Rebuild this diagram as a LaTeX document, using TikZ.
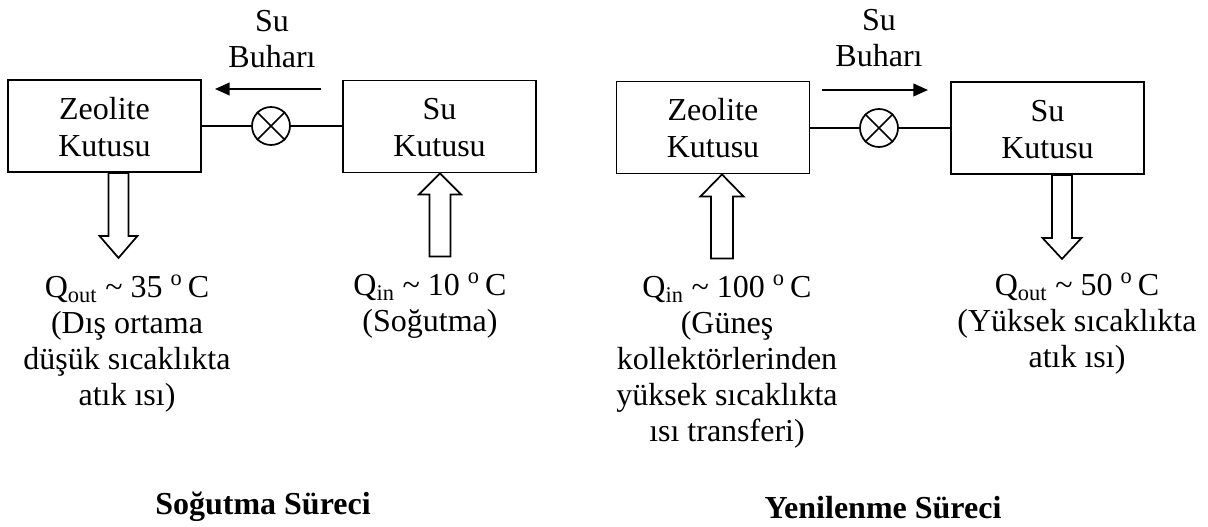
\documentclass[tikz,border=0pt]{standalone}
\usepackage{fontspec}
\setmainfont{Liberation Serif}
\usetikzlibrary{arrows.meta,calc}

\tikzset{
  px/.style={x=0.75pt,y=-0.75pt},
  tank/.style={draw, line width=1.4pt, inner sep=0pt, align=center,
    minimum width=144.75pt, minimum height=69pt,
    font=\fontsize{24}{27.75}\selectfont},
  valve/.style={draw, circle, line width=1.3pt, inner sep=0pt, minimum size=28.5pt},
  pipe/.style={line width=1.1pt},
  steam/.style={line width=1.5pt, -{Triangle[length=11pt,width=9.5pt]}},
  heat/.style={draw, fill=white, line width=1.3pt, line join=miter},
  note/.style={anchor=north, inner sep=0pt, align=center,
    font=\fontsize{24}{27}\selectfont},
  title/.style={anchor=base, inner sep=0pt, font=\bfseries\fontsize{24}{27}\selectfont}
}

\begin{document}
\begin{tikzpicture}[px]
\useasboundingbox (0,0) rectangle (1208,527);

% ---------- cooling process ----------
\node[tank] (Z1) at (104.5,126) {\rule{0pt}{26pt}Zeolite\\Kutusu\strut};
\node[tank] (S1) at (439.5,126.5) {\rule{0pt}{26pt}Su\\Kutusu\strut};
\node[valve] (V1) at (271,126) {};
\draw[pipe] (V1.north west) -- (V1.south east) (V1.north east) -- (V1.south west);
\draw[pipe] (Z1.east) -- (V1.west) (V1.east) -- (S1.west |- V1.east);

\node[note] (B1) at (272,5.8) {\strut Su\\Buharı};
\coordinate (f1s) at (321,89);
\coordinate (f1e) at (215,89);
\draw[steam] (f1s) -- (f1e);

% heat rejected by the zeolite
\draw[heat] (Z1.south -| 108.5,0) -- ++(0,63) -- ++(-9,0) -- ++(19,22)
  -- ++(19,-22) -- ++(-9,0) -- ++(0,-63) -- cycle;
% heat taken up by the water tank
\draw[heat] (S1.south -| 440,0) -- ++(-21,21) -- ++(10.5,0) -- ++(0,62)
  -- ++(21,0) -- ++(0,-62) -- ++(10.5,0) -- cycle;

\node[note] (Q1) at (127,271.8) {\strut Q\textsubscript{out} \char"007E{} 35 \textsuperscript{o}\,C\\(Dış ortama\\düşük sıcaklıkta\\atık ısı)};
\node[note] (Q2) at (430,270.5) {\strut Q\textsubscript{in} \char"007E{} 10 \textsuperscript{o}\,C\\(Soğutma)};

\node[title] (T1) at (263,515) {Soğutma Süreci};

% ---------- regeneration process ----------
\node[tank] (Z2) at (713,127.5) {\rule{0pt}{26pt}Zeolite\\Kutusu\strut};
\node[tank] (S2) at (1047.5,128) {\rule{0pt}{26pt}Su\\Kutusu\strut};
\node[valve] (V2) at (879,128) {};
\draw[pipe] (V2.north west) -- (V2.south east) (V2.north east) -- (V2.south west);
\draw[pipe] (Z2.east |- V2.west) -- (V2.west) (V2.east) -- (S2.west |- V2.east);

\node[note] (B2) at (879,4.8) {\strut Su\\Buharı};
\coordinate (f2s) at (822,90);
\coordinate (f2e) at (928,90);
\draw[steam] (f2s) -- (f2e);

% solar heat supplied to the zeolite
\draw[heat] (Z2.south -| 722,0) -- ++(-21.5,22) -- ++(10.5,0) -- ++(0,62)
  -- ++(22,0) -- ++(0,-62) -- ++(10.5,0) -- cycle;
% heat rejected by the water tank
\draw[heat] (S2.south -| 1052,0) -- ++(0,63) -- ++(-9.5,0) -- ++(19.5,21)
  -- ++(19.5,-21) -- ++(-9.5,0) -- ++(0,-63) -- cycle;

\node[note] (Q3) at (727,271.8) {\strut Q\textsubscript{in} \char"007E{} 100 \textsuperscript{o}\,C\\(Güneş\\kollektörlerinden\\yüksek sıcaklıkta\\ısı transferi)};
\node[note] (Q4) at (1077,269.8) {\strut Q\textsubscript{out} \char"007E{} 50 \textsuperscript{o}\,C\\(Yüksek sıcaklıkta\\atık ısı)};

\node[title] (T2) at (883,518) {Yenilenme Süreci};
\end{tikzpicture}
\end{document}
